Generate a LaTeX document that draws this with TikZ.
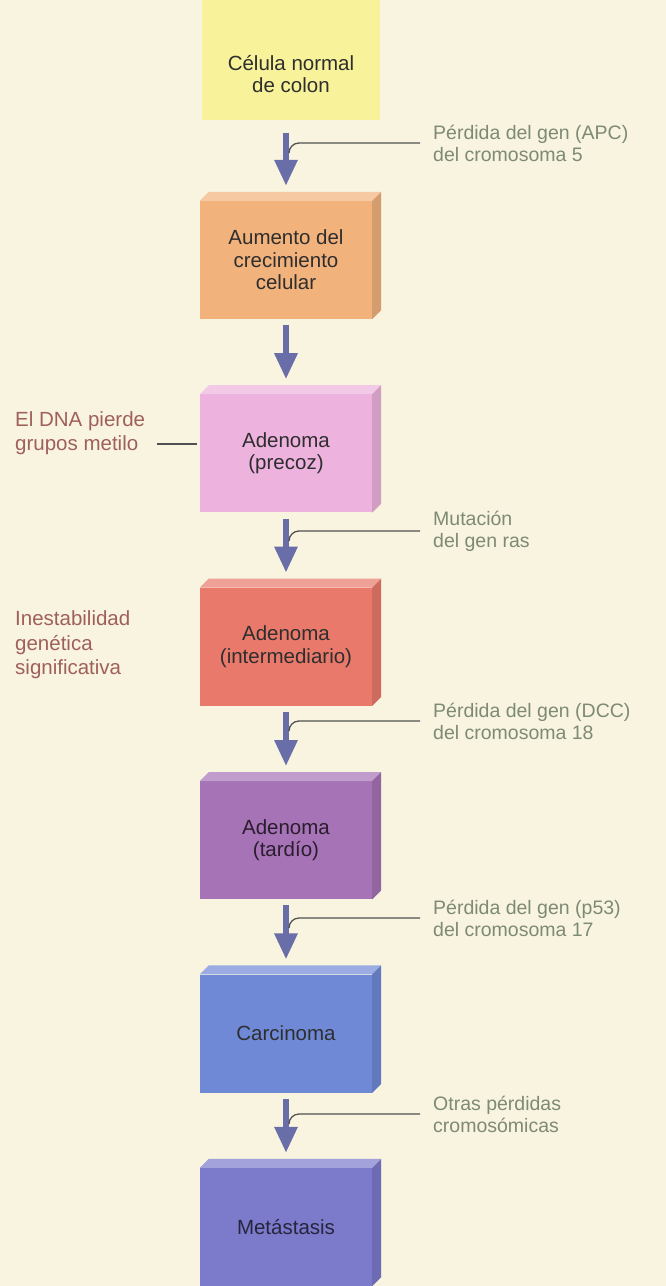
\documentclass[tikz,border=0pt]{standalone}
\usepackage{fontspec}
\setmainfont{Liberation Sans}
\usetikzlibrary{arrows.meta, positioning, calc}
\definecolor{paper}{HTML}{F8F4E0}
\definecolor{cyellow}{HTML}{F8F39A}
\definecolor{corange}{HTML}{F2B27C}
\definecolor{cpink}{HTML}{EEB2DE}
\definecolor{cred}{HTML}{E9796B}
\definecolor{cpurple}{HTML}{A673B7}
\definecolor{cblue}{HTML}{6F89D7}
\definecolor{cindigo}{HTML}{7C7ACB}
\definecolor{flowblue}{HTML}{6A6EA8}
\definecolor{notegreen}{HTML}{7E8A74}
\definecolor{notered}{HTML}{A0605A}
\definecolor{tickgray}{HTML}{505050}

\begin{document}
\begin{tikzpicture}[
    x=1pt, y=-1pt,
    node distance=75pt,
    cell/.style={rectangle, minimum width=172pt, minimum height=118pt, inner sep=0pt,
      align=center, font=\fontsize{20.5}{22.5}\selectfont, text=black!82},
    flow/.style={-{Triangle[width=22pt,length=26pt]}, line width=6pt, flowblue,
      shorten <=6pt, shorten >=15pt},
    note/.style={anchor=west, align=left, inner sep=0pt,
      font=\fontsize{19.5}{22}\selectfont, text=notegreen},
    side/.style={anchor=west, align=left, inner sep=0pt,
      font=\fontsize{20.5}{24.5}\selectfont, text=notered},
    tick/.style={line width=1.3pt, tickgray}
  ]
    \fill[paper, use as bounding box] (0,0) rectangle (666,1286);

    % stages
    \node[cell, fill=cyellow, minimum width=178pt, minimum height=120pt] (b1) at (291,60)
      {\rule{0pt}{43pt}Célula normal\\de colon};
    \node[cell, fill=corange] (b2) at (286,260) {Aumento del\\crecimiento\\celular};
    \node[cell, fill=cpink, below=of b2] (b3) {Adenoma\\(precoz)};
    \node[cell, fill=cred, below=of b3] (b4) {Adenoma\\(intermediario)};
    \node[cell, fill=cpurple, below=of b4, text=black!75!cpurple] (b5) {Adenoma\\(tardío)};
    \node[cell, fill=cblue, below=of b5] (b6) {Carcinoma};
    \node[cell, fill=cindigo, below=of b6, text=black!70!cindigo] (b7) {Metástasis};

    % top and right faces
    \foreach \n/\c in {b2/corange, b3/cpink, b4/cred, b5/cpurple, b6/cblue, b7/cindigo} {
      \fill[\c!70!white] (\n.north west) -- ++(9,-9) -- ([shift={(9,-9)}]\n.north east)
        -- (\n.north east) -- cycle;
      \fill[\c!88!black] (\n.north east) -- ++(9,-9) -- ([shift={(9,-9)}]\n.south east)
        -- (\n.south east) -- cycle;
    }

    % arrows
    \draw[flow, shorten <=13pt] (b1.south -| b2) -- (b2);
    \foreach \a/\b in {b2/b3, b3/b4, b4/b5, b5/b6, b6/b7}
      \draw[flow] (\a) -- (\b);

    % notes on the right
    \node[note] (n1) at (433,143) {Pérdida del gen (APC)\\del cromosoma 5};
    \node[note] (n2) at (433,531) {Mutación\\del gen ras};
    \node[note] (n3) at (433,721) {Pérdida del gen (DCC)\\del cromosoma 18};
    \node[note] (n4) at (433,918) {Pérdida del gen (p53)\\del cromosoma 17};
    \node[note] (n5) at (433,1114) {Otras pérdidas\\cromosómicas};

    \coordinate (j1) at (289,153);
    \coordinate (j2) at (289,541);
    \coordinate (j3) at (289,731);
    \coordinate (j4) at (289,928);
    \coordinate (j5) at (289,1124);
    \foreach \n/\j in {n1/j1, n2/j2, n3/j3, n4/j4, n5/j5}
      \draw[tick] ([xshift=-13pt]\n.west) -- ++(-121,0) to[out=180, in=90] (\j);

    % notes on the left
    \node[side] (s1) at (15,433) {El DNA pierde\\grupos metilo};
    \node[side] (s2) at (15,645) {Inestabilidad\\genética\\significativa};
    \path ([shift={(12,11)}]s1.east) coordinate (m1);
    \draw[tick, shorten >=3pt] (m1) -- (m1 -| b3.west);
\end{tikzpicture}
\end{document}
